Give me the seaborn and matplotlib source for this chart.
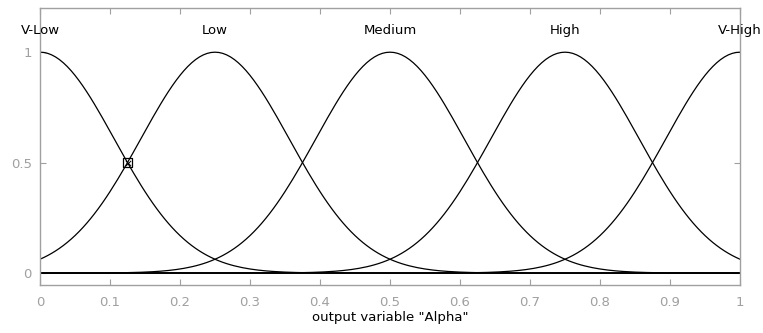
import numpy as np
import pandas as pd
import matplotlib
matplotlib.use("Agg")
import matplotlib.pyplot as plt
import seaborn as sns

# Gaussian membership functions
mf_names = ["V-Low", "Low", "Medium", "High", "V-High"]
mf_centers = [0.0, 0.25, 0.5, 0.75, 1.0]
mf_sigma = [0.1062, 0.1062, 0.1062, 0.1062, 0.1062]
x_ticks = [0, 0.1, 0.2, 0.3, 0.4, 0.5, 0.6, 0.7, 0.8, 0.9, 1]
x_ticklabels = ["0", "0.1", "0.2", "0.3", "0.4", "0.5", "0.6", "0.7", "0.8", "0.9", "1"]
y_ticks = [0, 0.5, 1]
y_ticklabels = ["0", "0.5", "1"]
marker_x = [0.125]
marker_y = [0.5]

sns.set_style("white")
plt.rcParams["font.family"] = ["DejaVu Sans"]

xs = np.linspace(0, 1, 181)
rows = []
for n, c, s in zip(mf_names, mf_centers, mf_sigma):
    for x in xs:
        rows.append({"x": x, "mu": np.exp(-((x - c) ** 2) / (2 * s * s)), "mf": n})
df = pd.DataFrame(rows)

fig = plt.figure(figsize=(7.63, 3.33), dpi=100)
ax = fig.add_axes([40 / 763, (333 - 285) / 333, 700 / 763, 277 / 333])

ax.axhline(0, color="black", lw=1.2, zorder=1)
sns.lineplot(data=df, x="x", y="mu", units="mf", estimator=None, color="black",
             lw=0.9, ax=ax, legend=False)
ax.scatter(marker_x, marker_y, marker="s", s=40, facecolors="none",
           edgecolors="black", linewidths=0.9, zorder=5)
ax.scatter(marker_x, marker_y, marker="x", s=14, color="black",
           linewidths=0.7, zorder=5)

for n, c in zip(mf_names, mf_centers):
    ax.text(c, 1.1, n, ha="center", va="center", fontsize=9.5, color="black")

ax.set_xlim(0, 1)
ax.set_ylim(-0.054, 1.2)
ax.set_xticks(x_ticks)
ax.set_xticklabels(x_ticklabels)
ax.set_yticks(y_ticks)
ax.set_yticklabels(y_ticklabels)
gray = "#a0a0a0"
ax.tick_params(axis="both", direction="in", length=4, color=gray, labelcolor=gray,
               labelsize=9.5, top=True, right=True, bottom=True, left=True)
ax.tick_params(axis="x", pad=8)
ax.tick_params(axis="y", pad=6)
for sp in ax.spines.values():
    sp.set_color(gray)
    sp.set_linewidth(1)
ax.set_xlabel('output variable "Alpha"', fontsize=9.5, color="black", labelpad=1.5)
ax.set_ylabel("")

fig.savefig("out.png", dpi=100)
